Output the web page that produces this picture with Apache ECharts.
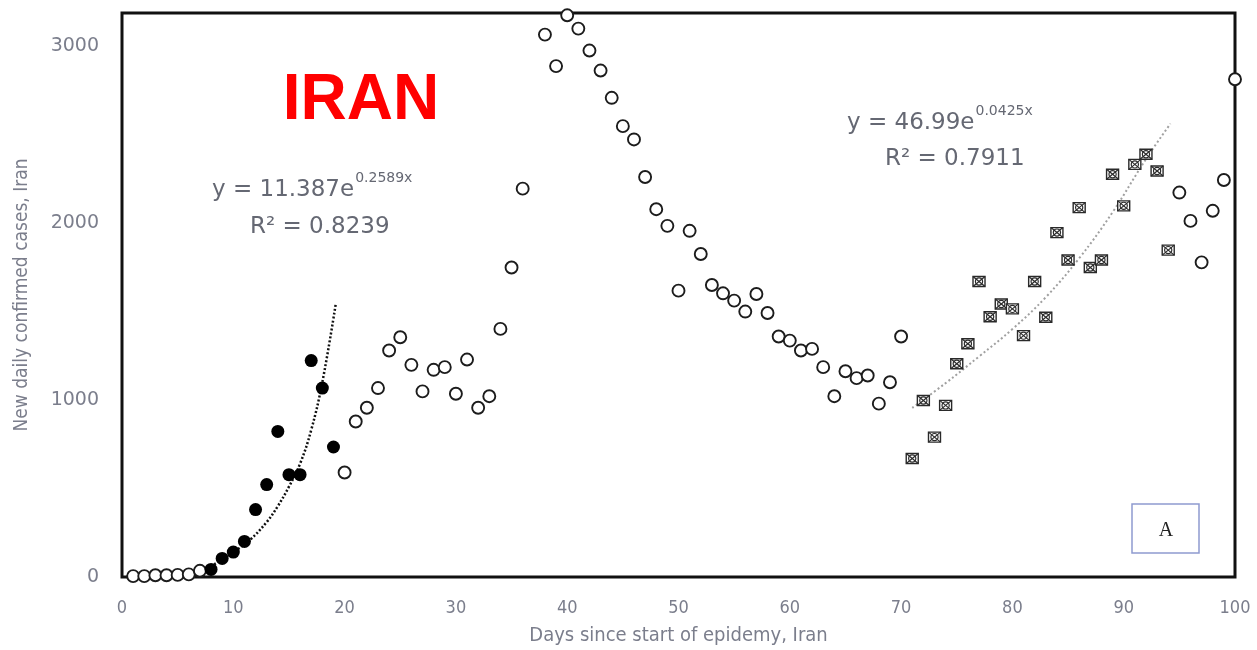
<!DOCTYPE html>
<html><head><meta charset="utf-8">
<script src="https://cdn.jsdelivr.net/npm/echarts@6/dist/echarts.min.js"></script>
<style>html,body{margin:0;padding:0;background:#fff}#c{width:1257px;height:650px}</style>
</head><body><div id="c"></div>
<script>
// ---- data ----
const openDays = [1,2,3,4,5,6,7,20,21,22,23,24,25,26,27,28,29,30,31,32,33,34,35,36,38,39,40,41,42,43,44,45,46,47,48,49,50,51,52,53,54,55,56,57,58,59,60,61,62,63,64,65,66,67,68,69,70,95,96,97,98,99,100];
const openVals = [5,5,10,10,12,15,35,590,878,956,1067,1279,1354,1198,1048,1170,1185,1035,1228,956,1021,1401,1748,2193,3063,2885,3172,3097,2973,2860,2706,2546,2471,2259,2077,1983,1617,1955,1824,1649,1602,1561,1499,1598,1491,1358,1335,1279,1288,1185,1021,1162,1123,1138,979,1100,1358,2171,2011,1777,2068,2242,2811];
const filledDays = [8,9,10,11,12,13,14,15,16,17,18,19];
const filledVals = [43,105,141,201,381,522,822,578,578,1222,1067,734];
const boxDays = [71,72,73,74,75,76,77,78,79,80,81,82,83,84,85,86,87,88,89,90,91,92,93,94];
const boxVals = [669,997,790,969,1204,1317,1669,1470,1542,1514,1363,1669,1467,1945,1790,2086,1748,1790,2274,2096,2330,2387,2293,1846];
const trend1Days = [8,10,11.5,13,14,15,16,17,18,19.2];
const trend1Vals = [60,140,210,310,400,510,640,830,1100,1540];
const trend2Days = [71,74,77,80,83,86,89,92,94.2];
const trend2Vals = [955,1095,1245,1400,1580,1800,2060,2360,2560];
const xTicks = [0,10,20,30,40,50,60,70,80,90,100];
const yTicks = [0,1000,2000,3000];
const eq1 = ['y = 11.387e', '0.2589x', 'R\u00b2 = 0.8239'];
const eq2 = ['y = 46.99e', '0.0425x', 'R\u00b2 = 0.7911'];

const zip = (a, b) => a.map((d, i) => [d, b[i]]);
const gray = '#7b7e8c';
const eqColor = '#656873';
const condensed = '"DejaVu Sans Condensed", "Liberation Sans Narrow", sans-serif';

const ctx = document.createElement('canvas').getContext('2d');
function tw(text, font) { ctx.font = font; return ctx.measureText(text).width; }
const eqFont = '23px "DejaVu Sans"';
const supFont = '14px "DejaVu Sans"';

function eqGraphics(eq, x1, y1, x2, y2) {
  const w = tw(eq[0], eqFont);
  return [
    {type:'text', x:x1, y:y1, style:{text:eq[0], fill:eqColor, font:eqFont, align:'left', verticalAlign:'middle'}},
    {type:'text', x:x1 + w + 1, y:y1 - 12, style:{text:eq[1], fill:eqColor, font:supFont, align:'left', verticalAlign:'middle'}},
    {type:'text', x:x2, y:y2, style:{text:eq[2], fill:eqColor, font:eqFont, align:'left', verticalAlign:'middle'}}
  ];
}

const chart = echarts.init(document.getElementById('c'), null, {renderer:'canvas'});
chart.setOption({
  animation: false,
  backgroundColor: '#fff',
  grid: {left:122, right:22, top:13, bottom:73, outerBoundsMode:'none', containLabel:false,
         show:true, borderColor:'#111', borderWidth:3, backgroundColor:'transparent'},
  xAxis: {
    type:'value', min:xTicks[0], max:xTicks[xTicks.length-1], interval:10,
    axisLine:{show:false}, axisTick:{show:false}, splitLine:{show:false},
    axisLabel:{color:gray, fontSize:18, fontFamily:condensed, margin:22},
    name:'Days since start of epidemy, Iran', nameLocation:'middle', nameGap:49,
    nameTextStyle:{color:gray, fontSize:20, fontFamily:condensed}
  },
  yAxis: {
    type:'value', min:yTicks[0], max:3185, interval:1000,
    axisLine:{show:false}, axisTick:{show:false}, splitLine:{show:false},
    axisLabel:{color:gray, fontSize:19, fontFamily:'"DejaVu Sans", sans-serif', margin:23, showMaxLabel:false,
      formatter: v => (yTicks.indexOf(v) >= 0 ? String(v) : '')},
    name:'New daily confirmed cases, Iran', nameLocation:'middle', nameGap:90, nameRotate:90,
    nameTextStyle:{color:gray, fontSize:19, fontFamily:condensed}
  },
  series: [
    {type:'line', data:zip(trend1Days, trend1Vals), smooth:0.4, symbol:'none', clip:false,
     lineStyle:{color:'#111', width:2.5, type:[2,2]}, z:3},
    {type:'line', data:zip(trend2Days, trend2Vals), smooth:0.4, symbol:'none', clip:false,
     lineStyle:{color:'#a0a0a0', width:2, type:[2,2.5]}, z:3},
    {type:'scatter', data:zip(openDays, openVals), symbol:'circle', symbolSize:12, clip:false,
     itemStyle:{color:'#fff', borderColor:'#1c1c1c', borderWidth:1.9, opacity:1}, z:4},
    {type:'scatter', data:zip(filledDays, filledVals), symbol:'circle', symbolSize:13, clip:false,
     itemStyle:{color:'#000', opacity:1}, z:4},
    {type:'custom', data:zip(boxDays, boxVals), clip:false, z:4,
     renderItem: function (params, api) {
       const p = api.coord([api.value(0), api.value(1)]);
       const s = 6, c = '#2a2a2a';
       return {type:'group', children:[
         {type:'rect', shape:{x:p[0]-s, y:p[1]-s+1, width:2*s, height:2*s-2}, style:{fill:'#fff', stroke:c, lineWidth:1.4}},
         {type:'line', shape:{x1:p[0]-s, y1:p[1]-s+1, x2:p[0]+s, y2:p[1]+s-1}, style:{stroke:c, lineWidth:1.2}},
         {type:'line', shape:{x1:p[0]+s, y1:p[1]-s+1, x2:p[0]-s, y2:p[1]+s-1}, style:{stroke:c, lineWidth:1.2}},
         {type:'circle', shape:{cx:p[0], cy:p[1], r:3.6}, style:{fill:'none', stroke:c, lineWidth:1.2}}
       ]};
     }}
  ],
  graphic: [
    {type:'text', x:361, y:101, style:{text:'IRAN', fill:'#ff0000', font:'bold 64px "Liberation Sans", Arial, sans-serif', align:'center', verticalAlign:'middle'}},
    ...eqGraphics(eq1, 212, 190, 250, 227),
    ...eqGraphics(eq2, 847, 123, 885, 159),
    {type:'rect', shape:{x:1132, y:504, width:67, height:49}, style:{fill:'#fff', stroke:'#8f9bd0', lineWidth:1.5}},
    {type:'text', x:1166, y:531, style:{text:'A', fill:'#222', font:'20px "Liberation Serif", serif', align:'center', verticalAlign:'middle'}}
  ]
});
</script>
</body></html>
